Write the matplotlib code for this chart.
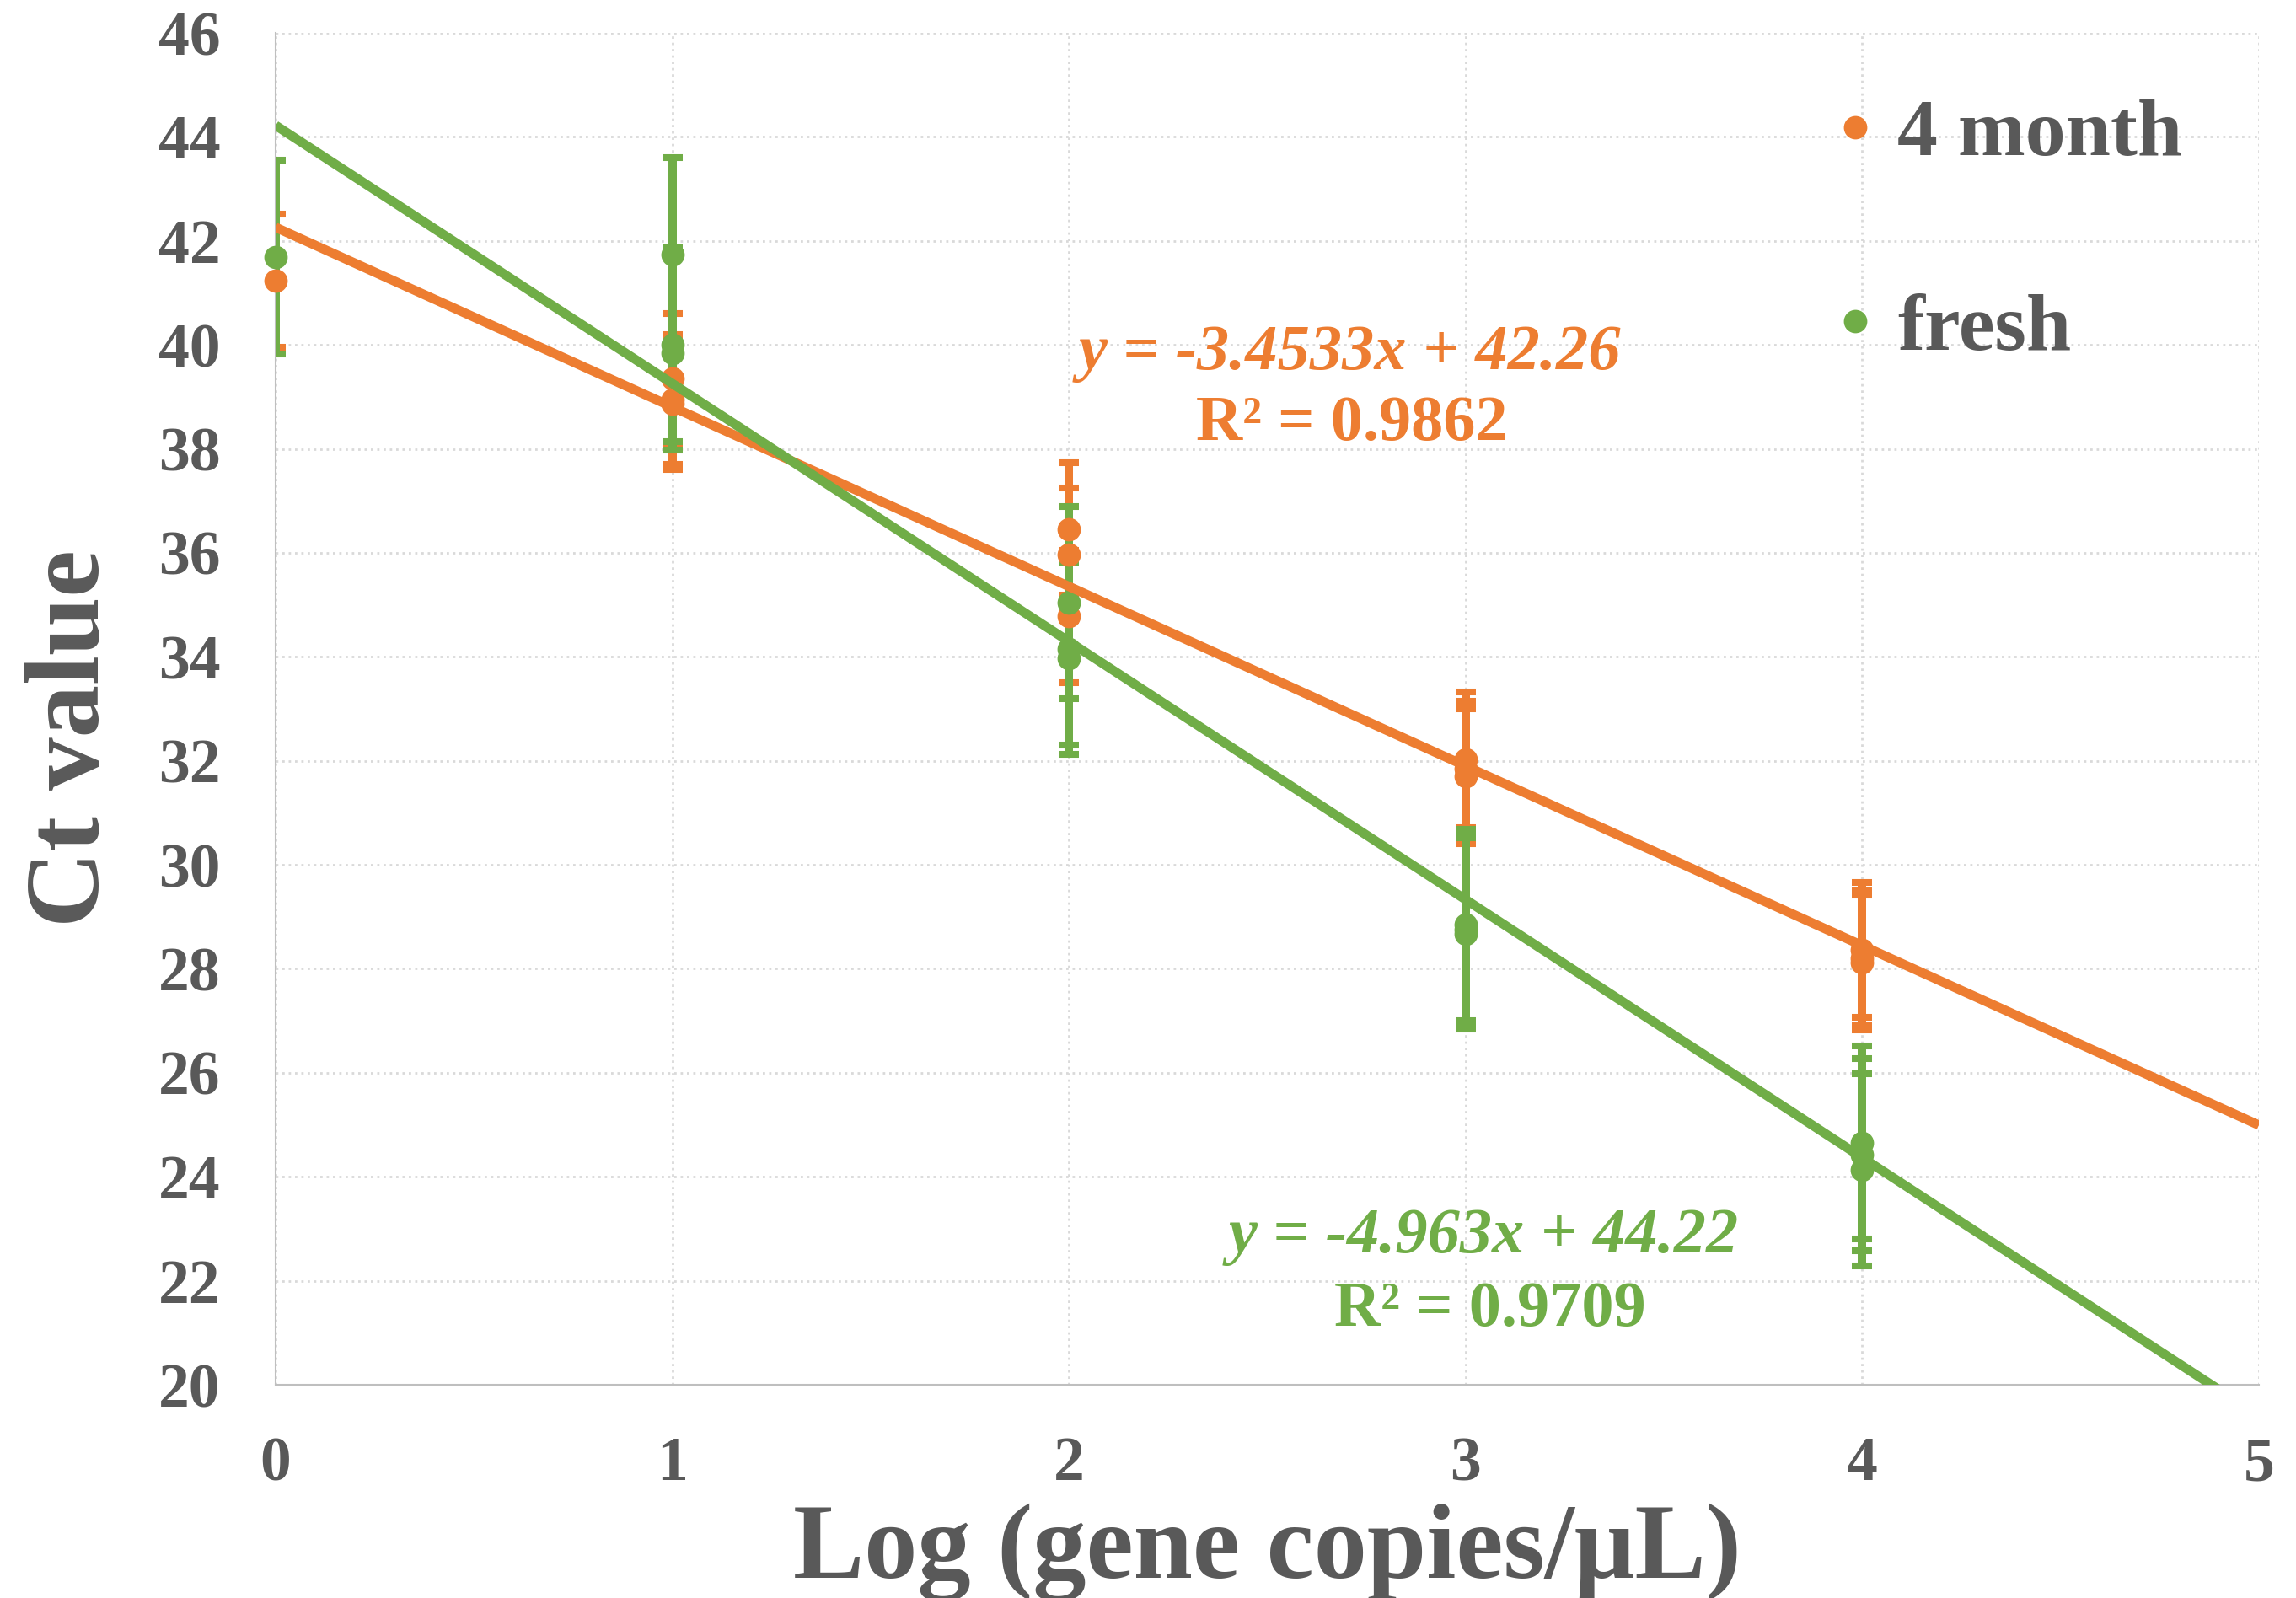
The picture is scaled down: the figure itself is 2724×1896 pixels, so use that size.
import numpy as np
import matplotlib
matplotlib.use("Agg")
import matplotlib.pyplot as plt
from matplotlib.lines import Line2D

# data
series_names = ["4 month", "fresh"]
colors = ["#ED7D31", "#70AD47"]

month4_x = [0, 1, 1, 1, 2, 2, 2, 3, 3, 3, 4, 4, 4]
month4_y = [41.24, 39.35, 38.95, 38.86, 36.46, 35.97, 34.78, 32.02, 31.85, 31.70, 28.36, 28.20, 28.12]
month4_err = [1.28, 1.25, 1.25, 1.25, 1.27, 1.27, 1.27, 1.30, 1.30, 1.30, 1.30, 1.30, 1.30]

fresh_x = [0, 1, 1, 1, 2, 2, 2, 3, 3, 3, 4, 4, 4]
fresh_y = [41.69, 41.74, 40.00, 39.84, 35.04, 34.15, 33.97, 28.85, 28.75, 28.68, 24.66, 24.42, 24.13]
fresh_err = [1.87, 1.86, 1.86, 1.86, 1.85, 1.85, 1.85, 1.84, 1.84, 1.84, 1.85, 1.85, 1.85]

# trendline coefficients (slope, intercept) and r^2 from the chart
slopes = [-3.4533, -4.963]
intercepts = [42.26, 44.22]
r2 = ["0.9862", "0.9709"]
eq_text = ["y = -3.4533x + 42.26", "y = -4.963x + 44.22"]

xticks = [0, 1, 2, 3, 4, 5]
yticks = list(range(20, 47, 2))

txt_col = "#595959"
serif = ["Liberation Serif", "DejaVu Serif"]
plt.rcParams["font.family"] = serif
plt.rcParams["font.weight"] = "bold"
plt.rcParams["axes.labelweight"] = "bold"

fig = plt.figure(figsize=(27.24, 18.96), dpi=100)
ax = fig.add_axes([327 / 2724, 1 - 1643 / 1896, 2353 / 2724, 1604 / 1896])

xs = [month4_x, fresh_x]
ys = [month4_y, fresh_y]
errs = [month4_err, fresh_err]

# error bars first, then markers, then trendlines on top
for i in range(2):
    ax.errorbar(xs[i], ys[i], yerr=errs[i], fmt="none", ecolor=colors[i],
                elinewidth=7.2, capsize=8.8, capthick=5.8, zorder=3)
for i in range(2):
    ax.plot(xs[i], ys[i], "o", color=colors[i], markersize=20, markeredgewidth=0,
            clip_on=False, zorder=4)

xfit = np.array([0, 5])
for i in range(2):
    ax.plot(xfit, slopes[i] * xfit + intercepts[i], color=colors[i], lw=8,
            solid_capstyle="butt", zorder=5)

# trendline labels
ax.text(2.707, 39.54, eq_text[0], color=colors[0], fontsize=55, style="italic",
        fontweight="bold", ha="center", va="baseline", zorder=6)
ax.text(2.714, 38.17, "R² = " + r2[0], color=colors[0], fontsize=55,
        fontweight="bold", ha="center", va="baseline", zorder=6)
ax.text(3.045, 22.545, eq_text[1], color=colors[1], fontsize=55, style="italic",
        fontweight="bold", ha="center", va="baseline", zorder=6)
ax.text(3.062, 21.13, "R² = " + r2[1], color=colors[1], fontsize=55,
        fontweight="bold", ha="center", va="baseline", zorder=6)

ax.set_xlim(0, 5)
ax.set_ylim(20, 46)
ax.set_xticks(xticks)
ax.set_yticks(yticks)
ax.tick_params(length=0, labelsize=53, labelcolor=txt_col)
ax.tick_params(axis="x", pad=44)
ax.tick_params(axis="y", pad=47)

ax.grid(True, color="#D9D9D9", lw=2, linestyle=(0, (1, 1.7)))
ax.set_axisbelow(True)
for s in ["top", "right"]:
    ax.spines[s].set_visible(False)
for s in ["left", "bottom"]:
    ax.spines[s].set_color("#BFBFBF")
    ax.spines[s].set_linewidth(1.5)

ax.set_xlabel("Log (gene copies/μL)", fontsize=91, fontweight="bold",
              color=txt_col, labelpad=8)
ax.set_ylabel("Ct value", fontsize=90, fontweight="bold", color=txt_col,
              labelpad=32)
ax.yaxis.label.set_y(0.478)

handles = [Line2D([], [], ls="none", marker="o", color=c, markersize=20,
                  markeredgewidth=0) for c in colors]
leg = fig.legend(handles, series_names, loc="upper left",
                 bbox_to_anchor=(2182 / 2724, 1 - 117 / 1896),
                 bbox_transform=fig.transFigure, frameon=False, fontsize=69,
                 borderpad=0, borderaxespad=0, handlelength=0.4,
                 handletextpad=0.32, labelspacing=1.5)
for t in leg.get_texts():
    t.set_color(txt_col)

fig.savefig("out.png", dpi=100, facecolor="white")
